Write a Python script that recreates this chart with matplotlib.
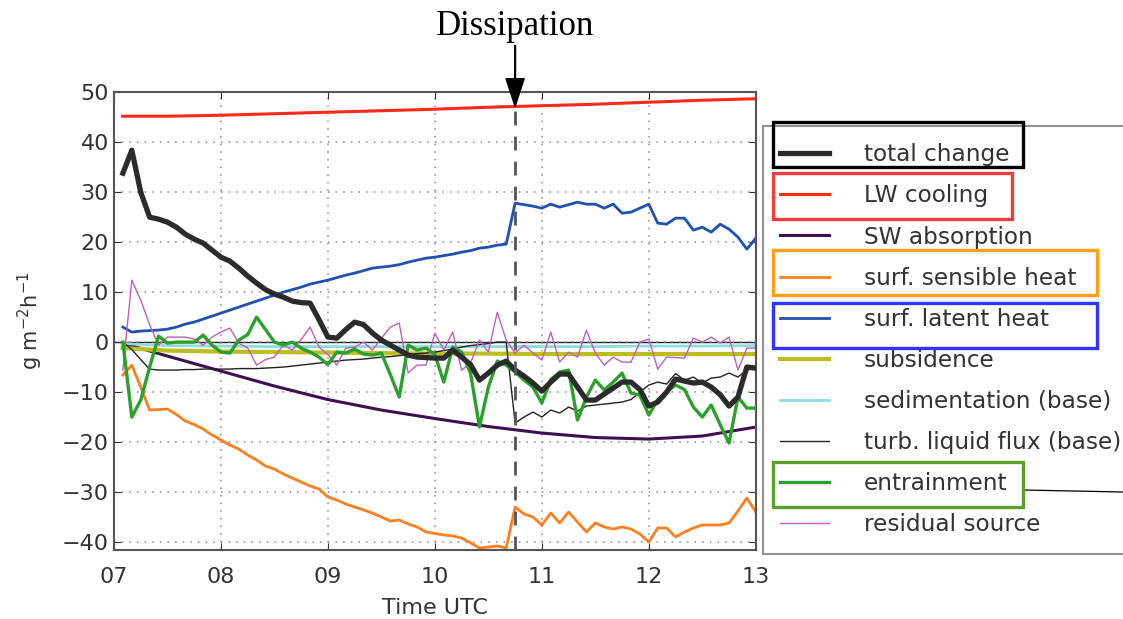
import numpy as np
import matplotlib.pyplot as plt
from matplotlib.patches import Rectangle
from matplotlib.lines import Line2D

# 5-minute output steps, 07:05 .. 13:00 UTC
steps = np.arange(1, 73)
hours = 7 + steps / 12.0

total_change = [33.8, 38.4, 30.0, 25.0, 24.6, 24.0, 23.0, 21.6, 20.6, 19.8, 18.4, 17.0,
                16.2, 14.8, 13.2, 11.8, 10.5, 9.6, 9.0, 8.2, 7.9, 7.8, 4.5, 1.0,
                0.8, 2.5, 4.0, 3.5, 1.8, 0.4, -0.6, -1.6, -2.6, -3.0, -3.1, -3.2,
                -3.2, -1.6, -3.0, -4.5, -7.6, -6.2, -4.6, -3.8, -5.6, -6.8, -8.2, -9.8,
                -8.0, -6.4, -6.4, -9.0, -11.6, -11.6, -10.4, -9.2, -8.0, -8.0, -9.5, -12.8,
                -12.0, -10.0, -7.4, -7.8, -8.2, -8.0, -9.0, -10.5, -12.8, -11.0, -5.0, -5.2]

latent_heat = [3.0, 2.0, 2.2, 2.3, 2.4, 2.6, 3.0, 3.6, 4.0, 4.6, 5.2, 5.8,
               6.4, 7.0, 7.6, 8.2, 8.8, 9.4, 10.0, 10.5, 11.0, 11.6, 12.0, 12.4,
               12.9, 13.4, 13.8, 14.3, 14.8, 15.0, 15.2, 15.5, 16.0, 16.4, 16.8, 17.0,
               17.3, 17.6, 18.0, 18.3, 18.8, 19.0, 19.4, 19.6, 27.8, 27.5, 27.2, 26.8,
               27.6, 27.0, 27.5, 28.0, 27.6, 27.6, 26.8, 27.6, 25.8, 26.0, 26.8, 27.6,
               23.8, 23.6, 24.8, 24.8, 22.4, 23.0, 22.0, 23.6, 22.6, 21.0, 18.6, 20.8]

sensible_heat = [-6.6, -4.6, -9.0, -13.6, -13.5, -13.4, -14.5, -15.8, -16.5, -17.4, -18.6, -19.6,
                 -20.6, -21.4, -22.6, -23.6, -24.8, -25.4, -26.4, -27.2, -28.0, -28.8, -29.4, -31.0,
                 -31.6, -32.4, -33.0, -33.6, -34.2, -35.0, -35.8, -35.6, -36.4, -37.0, -38.0, -38.3,
                 -38.6, -38.8, -39.2, -40.2, -41.2, -41.0, -40.8, -41.2, -33.0, -34.4, -35.0, -36.6,
                 -34.2, -36.2, -34.0, -36.0, -38.0, -36.2, -37.0, -37.4, -37.0, -37.4, -38.4, -40.0,
                 -37.2, -37.2, -39.0, -38.0, -37.2, -36.6, -36.6, -36.6, -36.2, -33.8, -31.2, -34.0]

entrainment = [0.0, -15.0, -11.6, -5.0, 1.2, -0.2, 0.0, 0.0, 0.0, 1.4, -0.6, -2.0,
               -2.2, 0.4, 1.5, 5.0, 2.5, 0.0, -0.6, 0.0, -1.2, -2.0, -3.0, -4.5,
               -2.0, -2.2, -1.4, -2.4, -2.6, -2.2, -6.5, -11.0, -0.6, -1.6, -1.2, -2.5,
               -8.0, -1.0, -2.0, -6.2, -17.0, -9.0, -3.8, -4.6, -6.0, -7.6, -9.0, -12.2,
               -7.5, -6.0, -5.6, -15.6, -11.0, -7.6, -9.6, -8.0, -6.2, -10.2, -10.6, -14.6,
               -11.5, -10.0, -8.6, -9.5, -13.0, -15.0, -12.6, -16.5, -20.2, -11.0, -13.2, -13.2]

residual = [-5.6, 12.4, 8.4, 3.5, -0.6, 1.0, 1.0, 1.0, 0.6, -0.6, 1.0, 2.0,
            2.8, -0.2, -1.2, -4.6, -3.5, -3.0, -0.6, -1.6, 0.5, 3.0, -1.0, -2.5,
            -4.6, -1.2, -1.0, 0.0, -1.6, 0.8, 3.0, 3.8, -6.2, -4.6, -4.6, 1.8,
            -1.6, 2.0, -5.6, -4.2, 0.4, -2.0, 6.0, 0.4, -2.2, -0.6, -2.2, -3.6,
            2.0, -4.0, -2.0, -3.0, 2.4, -2.2, -4.6, -3.0, -4.0, -4.0, 0.0, 0.6,
            -5.4, -3.0, -3.1, -3.2, 0.8, 0.0, 1.0, -0.2, 1.0, -5.6, -1.2, -1.2]

turb_flux = [0.0, -1.5, -3.5, -5.4, -5.6, -5.6, -5.6, -5.5, -5.5, -5.4, -5.4, -5.4,
             -5.4, -5.3, -5.3, -5.3, -5.2, -5.1, -5.0, -4.8, -4.6, -4.4, -4.2, -4.0,
             -3.8, -3.6, -3.5, -3.4, -3.2, -3.0, -2.9, -2.7, -2.5, -2.3, -2.2, -2.0,
             -1.7, -1.4, -1.0, -0.7, -0.5, -0.3, 0.0, 0.0, -16.2, -15.0, -14.0, -15.0,
             -13.6, -14.2, -13.0, -13.8, -12.8, -12.6, -12.4, -12.2, -12.0, -11.5, -10.0, -8.6,
             -8.0, -8.4, -6.3, -7.6, -7.0, -8.2, -7.2, -7.0, -6.2, -7.0, -5.6, -5.2]

# smooth terms, half-hourly
smooth_hours = [7.08, 7.5, 8.0, 8.5, 9.0, 9.5, 10.0, 10.5, 11.0, 11.5, 12.0, 12.5, 13.0]
lw_cooling = [45.2, 45.2, 45.4, 45.7, 46.0, 46.3, 46.6, 47.0, 47.3, 47.6, 48.0, 48.4, 48.7]
sw_absorption = [-0.2, -2.8, -5.8, -8.8, -11.5, -13.6, -15.3, -16.9, -18.2, -19.1, -19.4, -18.8, -17.0]
subsidence = [-1.2, -1.7, -1.9, -2.0, -2.1, -2.2, -2.3, -2.3, -2.4, -2.4, -2.4, -2.4, -2.4]
sedimentation = [-0.3, -0.7, -0.8, -0.9, -0.9, -0.9, -0.9, -0.9, -0.9, -0.9, -0.8, -0.8, -0.7]

dissipation_time = 10.75

fig = plt.figure(figsize=(11.23, 6.19), dpi=100)
ax = fig.add_axes([0.1015, 0.1115, 0.5715, 0.7395])

ax.axhline(0, color='#222222', lw=1.0, zorder=1)
ax.plot(hours, total_change, color='#2b2b2b', lw=3.8, label='total change', zorder=5)
ax.plot(smooth_hours, lw_cooling, color='#ff2a1a', lw=2.2, label='LW cooling')
ax.plot(smooth_hours, sw_absorption, color='#3d1150', lw=2.2, label='SW absorption')
ax.plot(hours, sensible_heat, color='#ff7f1e', lw=2.0, label='surf. sensible heat')
ax.plot(hours, latent_heat, color='#2050b0', lw=2.0, label='surf. latent heat')
ax.plot(smooth_hours, subsidence, color='#bcbd22', lw=3.0, label='subsidence')
ax.plot(smooth_hours, sedimentation, color='#8edcdc', lw=2.0, label='sedimentation (base)')
ax.plot(hours, turb_flux, color='#222222', lw=1.0, label='turb. liquid flux (base)')
ax.plot(hours, entrainment, color='#2ca02c', lw=2.4, label='entrainment', zorder=4)
ax.plot(hours, residual, color='#bf5fbf', lw=1.0, label='residual source')

ax.set_xlim(7, 13)
ax.set_ylim(-41.6, 50)
top_mark = np.interp(dissipation_time, smooth_hours, lw_cooling)
ax.vlines(dissipation_time, -41.6, top_mark, colors='#555555', linestyles=(0, (5, 4)), lw=2, zorder=6)

ax.set_xticks(range(7, 14))
ax.set_xticklabels(['%02d' % h for h in range(7, 14)])
ax.set_yticks(range(-40, 51, 10))
ax.grid(True, color='#888888', linestyle=(0, (1, 4)), lw=1.1)
ax.tick_params(direction='in', top=True, right=True, length=5, labelsize=16,
               colors='#333333', labelcolor='#333333')
ax.tick_params(axis='x', pad=12)
for s in ax.spines.values():
    s.set_color('#555555')
    s.set_linewidth(1.5)
ax.set_xlabel('Time UTC', fontsize=16, color='#333333', labelpad=8)
ax.set_ylabel(r'g m$^{-2}$h$^{-1}$', fontsize=15, color='#333333', labelpad=12)

ax.annotate('Dissipation', xy=(dissipation_time, top_mark), xytext=(dissipation_time, 63.2),
            ha='center', va='center', fontsize=25, family='Liberation Serif',
            annotation_clip=False,
            arrowprops=dict(facecolor='black', edgecolor='black', width=0.6,
                            headwidth=13, headlength=20, shrink=0))

leg = ax.legend(loc='upper left', bbox_to_anchor=(763 / 1123, 1 - 126 / 619),
                bbox_transform=fig.transFigure, fontsize=16.7, frameon=True,
                fancybox=False, handlelength=2.1, handletextpad=1.5,
                labelspacing=0.78, borderpad=0.75, borderaxespad=0)
leg.get_frame().set_edgecolor('#777777')
leg.get_frame().set_linewidth(1.5)
for t in leg.get_texts():
    t.set_color('#333333')

# highlight boxes around some legend entries (figure pixel coordinates)
boxes = [(773, 122, 250, 45, 'black'),
         (773, 173, 239, 46, '#f03c3c'),
         (773, 250, 324, 45, '#ffa010'),
         (773, 303, 324, 45, '#3333ff'),
         (773, 462, 250, 45, '#5aa02a')]
for x0, y0, w, h, c in boxes:
    fig.patches.append(Rectangle((x0 / 1123, 1 - (y0 + h) / 619), w / 1123, h / 619,
                                 transform=fig.transFigure, fill=False, edgecolor=c,
                                 lw=2.4, zorder=10))
fig.lines.append(Line2D([1023 / 1123, 1.0], [1 - 490 / 619, 1 - 492 / 619],
                        transform=fig.transFigure, color='black', lw=0.9))

fig.savefig('out.png', dpi=100)
